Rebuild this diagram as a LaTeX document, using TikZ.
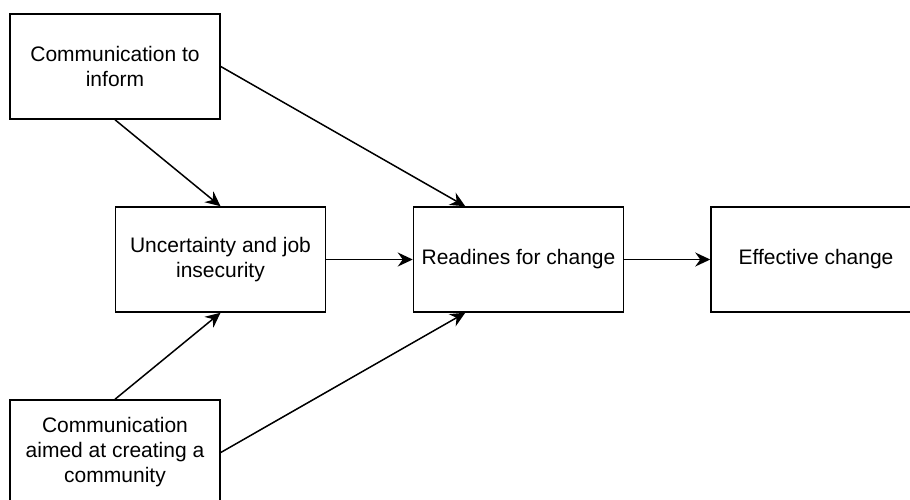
\documentclass[tikz,border=0pt]{standalone}
\usepackage{fontspec}
\setmainfont{Liberation Sans}
\usetikzlibrary{arrows.meta}
\begin{document}
\begin{tikzpicture}[x=1pt,y=-1pt,
  box/.style={draw=black, line width=1.5pt, rectangle, minimum width=210pt, minimum height=105pt,
    inner sep=0pt, align=center, font=\fontsize{21pt}{25pt}\selectfont},
  conn/.style={line width=1.5pt, -{Stealth[length=15pt, width=14pt, inset=5pt]}}]
\useasboundingbox (0,0) rectangle (910,499);
\clip (0,0) rectangle (910,499);
\node[box] (inform) at (115,66.5) {Communication to\\inform};
\node[box] (uncert) at (220.5,259.5) {Uncertainty and job\\insecurity};
\node[box] (ready) at (518.5,259.5) {Readines for change};
\node[box] (effect) at (816,259.5) {Effective change};
\node[box] (comm) at (115,452.5) {Communication\\aimed at creating a\\community};
\coordinate (readyT) at ([xshift=52.5pt]ready.north west);
\coordinate (readyB) at ([xshift=52.5pt]ready.south west);
\draw[conn] (inform.east) -- (readyT);
\draw[conn] (inform.south) -- (uncert.north);
\draw[conn] (comm.north) -- (uncert.south);
\draw[conn] (comm.east) -- (readyB);
\draw[conn] (uncert.east) -- (ready.west);
\draw[conn] (ready.east) -- (effect.west);
\end{tikzpicture}
\end{document}
